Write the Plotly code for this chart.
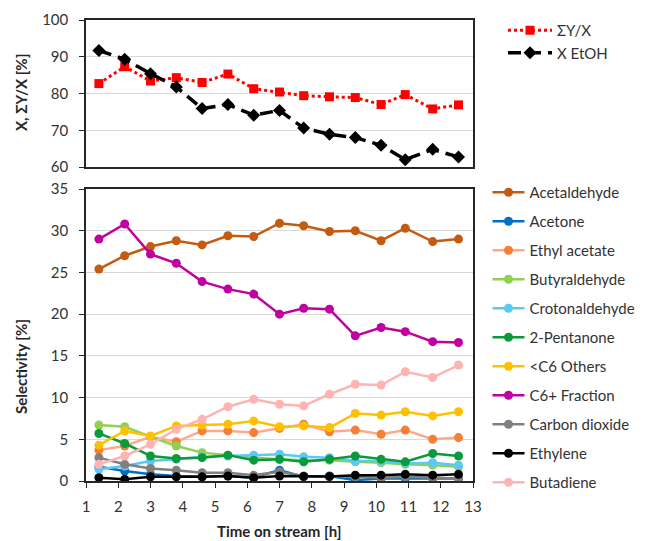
import plotly.graph_objects as go

# ---------------- data ----------------
time_h = [1.4, 2.2, 3.0, 3.8, 4.6, 5.4, 6.2, 7.0, 7.75, 8.55, 9.35, 10.15, 10.9, 11.75, 12.55]

sum_y_x = [82.7, 87.3, 83.4, 84.3, 83.0, 85.3, 81.3, 80.4, 79.4, 79.1, 78.9, 77.0, 79.7, 75.8, 76.9]
x_etoh = [91.7, 89.3, 85.4, 81.8, 75.9, 77.0, 74.1, 75.4, 70.6, 68.9, 68.0, 65.9, 62.0, 64.8, 62.7]

acetaldehyde = [25.4, 27.0, 28.1, 28.8, 28.3, 29.4, 29.3, 30.9, 30.6, 29.9, 30.0, 28.8, 30.3, 28.7, 29.0]
acetone = [1.7, 1.2, 0.8, 0.6, 0.5, 0.6, 0.4, 1.3, 0.5, 0.6, 0.1, 0.3, 0.3, 0.3, 0.3]
ethyl_acetate = [3.7, 4.2, 5.3, 4.7, 6.0, 6.0, 5.8, 6.3, 6.8, 5.9, 6.1, 5.6, 6.1, 5.0, 5.2]
butyraldehyde = [6.7, 6.5, 5.3, 4.2, 3.4, 3.1, 2.8, 2.6, 2.5, 2.5, 2.3, 2.2, 2.0, 1.9, 1.7]
crotonaldehyde = [1.4, 1.8, 2.4, 2.6, 2.9, 3.0, 3.1, 3.2, 2.9, 2.8, 2.4, 2.4, 2.1, 2.2, 1.9]
pentanone = [5.7, 4.5, 3.0, 2.7, 2.8, 3.1, 2.5, 2.6, 2.3, 2.6, 3.0, 2.6, 2.3, 3.3, 3.0]
c6_others = [4.3, 6.0, 5.4, 6.6, 6.7, 6.8, 7.2, 6.5, 6.6, 6.4, 8.1, 7.9, 8.3, 7.8, 8.3]
c6_plus = [29.0, 30.8, 27.2, 26.1, 23.9, 23.0, 22.4, 20.0, 20.7, 20.6, 17.4, 18.4, 17.9, 16.7, 16.6]
carbon_dioxide = [2.8, 2.0, 1.5, 1.3, 1.0, 1.0, 0.7, 1.1, 0.6, 0.5, 0.5, 0.4, 0.5, 0.4, 0.3]
ethylene = [0.4, 0.2, 0.5, 0.5, 0.5, 0.6, 0.4, 0.6, 0.55, 0.55, 0.7, 0.7, 0.8, 0.7, 0.8]
butadiene = [2.0, 3.0, 4.4, 6.2, 7.4, 8.9, 9.8, 9.2, 9.0, 10.4, 11.6, 11.5, 13.1, 12.4, 13.9]

selectivity_series = [
    ("Acetaldehyde", acetaldehyde, "#C55A11", "#C55A11"),
    ("Acetone", acetone, "#0070C0", "#0070C0"),
    ("Ethyl acetate", ethyl_acetate, "#FFA98C", "#F57F35"),
    ("Butyraldehyde", butyraldehyde, "#92D050", "#92D050"),
    ("Crotonaldehyde", crotonaldehyde, "#5BC8F5", "#5BC8F5"),
    ("2-Pentanone", pentanone, "#0A9A3C", "#0A9A3C"),
    ("<C6 Others", c6_others, "#FFC000", "#FFC000"),
    ("C6+ Fraction", c6_plus, "#C000A0", "#C000A0"),
    ("Carbon dioxide", carbon_dioxide, "#808080", "#808080"),
    ("Ethylene", ethylene, "#000000", "#000000"),
    ("Butadiene", butadiene, "#FFB3B3", "#FFB3B3"),
]

FONT = "Lato"
W, H = 649, 541

fig = go.Figure()

fig.add_trace(go.Scatter(
    x=time_h, y=sum_y_x, name="ΣY/X", mode="lines+markers",
    line=dict(color="#FF0000", width=3, dash="dot"),
    marker=dict(symbol="square", size=9, color="#FF0000"),
    xaxis="x", yaxis="y", legend="legend",
))
fig.add_trace(go.Scatter(
    x=time_h, y=x_etoh, name="X EtOH", mode="lines+markers",
    line=dict(color="#000000", width=3.5, dash="13px,7px"),
    marker=dict(symbol="diamond", size=10, color="#000000"),
    xaxis="x", yaxis="y", legend="legend",
))

for name, vals, lc, mc in selectivity_series:
    fig.add_trace(go.Scatter(
        x=time_h, y=vals, name=name, mode="lines+markers",
        line=dict(color=lc, width=2.5),
        marker=dict(symbol="circle", size=9, color=mc),
        xaxis="x2", yaxis="y2", legend="legend2", legendgroup=name,
    ))

xd = [86 / W, 473 / W]
base = dict(
    showline=True, linecolor="#262626", linewidth=1.5, mirror=True,
    gridcolor="#D9D9D9", gridwidth=1, zeroline=False,
    tickfont=dict(family=FONT, size=15, color="#333333"),
    tickcolor="#262626",
)

fig.update_layout(
    width=W, height=H,
    margin=dict(l=0, r=0, t=0, b=0, autoexpand=False),
    paper_bgcolor="white", plot_bgcolor="white",
    font=dict(family=FONT, size=15, color="#333333"),
    xaxis=dict(domain=xd, anchor="y", range=[1, 13], dtick=1, showticklabels=False,
               showgrid=False, ticks="", **base),
    yaxis=dict(domain=[1 - 167 / H, 1 - 20 / H], anchor="x", range=[60, 100], dtick=10,
               showgrid=True, ticks="outside", ticklen=5, ticklabelstandoff=8, **base),
    xaxis2=dict(domain=xd, anchor="y2", range=[1, 13], dtick=1, showgrid=False,
                ticks="outside", ticklen=5, ticklabelstandoff=6, **base),
    yaxis2=dict(domain=[1 - 481 / H, 1 - 189 / H], anchor="x2", range=[0, 35], dtick=5,
                showgrid=True, ticks="outside", ticklen=5, ticklabelstandoff=8, **base),
    legend=dict(x=503 / W, y=1 - 14 / H, xanchor="left", yanchor="top",
                font=dict(family=FONT, size=15, color="#333333"),
                bgcolor="rgba(0,0,0,0)", itemwidth=44),
    legend2=dict(x=487.5 / W, y=1 - 176 / H, xanchor="left", yanchor="top",
                 font=dict(family=FONT, size=15, color="#333333"),
                 bgcolor="rgba(0,0,0,0)", tracegroupgap=6.5, itemwidth=32),
    showlegend=True,
)

ann_font = dict(family=FONT, size=15, color="#262626")
fig.add_annotation(text="<b>X, ΣY/X [%]</b>", x=21 / W, y=1 - 93 / H, xref="paper", yref="paper",
                   xanchor="center", yanchor="middle",
                   textangle=-90, showarrow=False, font=ann_font)
fig.add_annotation(text="<b>Selectivity [%]</b>", x=21 / W, y=1 - 367 / H, xref="paper", yref="paper",
                   xanchor="center", yanchor="middle",
                   textangle=-90, showarrow=False, font=ann_font)
fig.add_annotation(text="<b>Time on stream [h]</b>", x=279 / W, y=1 - 531 / H, xref="paper", yref="paper",
                   xanchor="center", yanchor="middle",
                   showarrow=False, font=ann_font)

fig.write_html("out.html")
